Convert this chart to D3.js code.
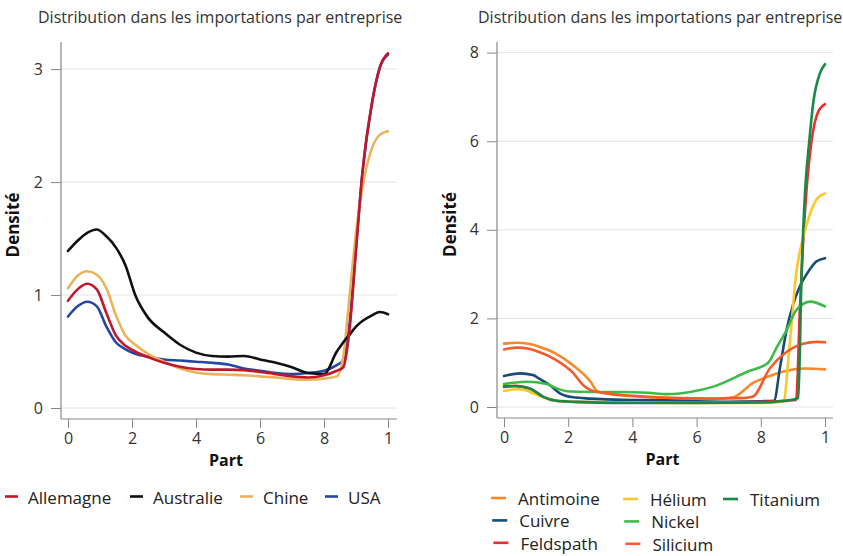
<!DOCTYPE html>
<html><head><meta charset="utf-8">
<script src="https://cdn.jsdelivr.net/npm/d3@7"></script>
<style>body{margin:0;background:#fff;} text{font-family:"Open Sans",sans-serif;}</style>
</head><body><svg id="c" width="843" height="556"></svg>
<script>
// ---------- data ----------
const titleText = "Distribution dans les importations par entreprise";
const xTitle = "Part";
const yTitle = "Densité";
const xTickValues = [0, 0.2, 0.4, 0.6, 0.8, 1];
const xTickLabels = ["0", "2", "4", "6", "8", "1"];
const leftYTicks = [0, 1, 2, 3];
const rightYTicks = [0, 2, 4, 6, 8];

// left chart: countries (common x grid)
const leftX = [0,0.03,0.06,0.09,0.12,0.15,0.18,0.21,0.25,0.3,0.35,0.4,0.45,0.5,0.55,0.6,0.65,0.7,0.75,0.8,0.84,0.86,0.88,0.9,0.92,0.95,0.975,1.0];
const allemagne = [0.95,1.05,1.10,1.05,0.84,0.64,0.55,0.50,0.45,0.40,0.365,0.345,0.34,0.34,0.335,0.32,0.30,0.28,0.27,0.29,0.33,0.36,0.70,1.40,2.08,2.70,3.02,3.14];
const australie = [1.39,1.48,1.55,1.58,1.52,1.42,1.26,1.00,0.80,0.67,0.56,0.49,0.46,0.455,0.46,0.43,0.40,0.36,0.31,0.30,0.50,0.58,0.65,0.72,0.77,0.82,0.85,0.83];
const chine = [1.06,1.17,1.21,1.18,1.06,0.82,0.64,0.56,0.48,0.41,0.35,0.315,0.30,0.295,0.29,0.28,0.27,0.255,0.25,0.26,0.28,0.45,1.00,1.55,1.95,2.30,2.42,2.45];
const usa = [0.81,0.90,0.94,0.90,0.72,0.58,0.52,0.48,0.455,0.43,0.42,0.41,0.40,0.385,0.35,0.33,0.31,0.30,0.31,0.33,0.38,0.42,0.75,1.42,2.08,2.70,3.02,3.13];
const countryNames = ["Allemagne", "Australie", "Chine", "USA"];
const countryColors = ["#c0172b", "#111111", "#e9b35c", "#2447a0"];

// right chart: minerals ([part, density] pairs)
const antimoine = [[0,1.43],[0.04,1.45],[0.08,1.42],[0.11,1.36],[0.16,1.21],[0.215,0.94],[0.27,0.57],[0.29,0.36],[0.33,0.29],[0.37,0.26],[0.45,0.22],[0.55,0.19],[0.65,0.18],[0.714,0.22],[0.777,0.55],[0.828,0.70],[0.88,0.82],[0.94,0.87],[1,0.85]];
const cuivre = [[0,0.70],[0.05,0.76],[0.09,0.72],[0.11,0.64],[0.143,0.49],[0.174,0.31],[0.215,0.22],[0.27,0.19],[0.37,0.16],[0.5,0.15],[0.6,0.13],[0.7,0.12],[0.8,0.13],[0.841,0.14],[0.86,0.9],[0.88,1.73],[0.9,2.3],[0.92,2.7],[0.943,3.0],[0.974,3.29],[1,3.36]];
const feldspath = [[0,0.45],[0.035,0.48],[0.07,0.44],[0.09,0.38],[0.125,0.22],[0.17,0.13],[0.25,0.11],[0.4,0.1],[0.6,0.1],[0.75,0.11],[0.85,0.13],[0.91,0.16],[0.922,2.25],[0.932,3.75],[0.943,4.95],[0.958,6.0],[0.979,6.67],[1,6.84]];
const helium = [[0,0.36],[0.04,0.40],[0.07,0.37],[0.09,0.31],[0.133,0.20],[0.18,0.13],[0.25,0.11],[0.4,0.1],[0.6,0.09],[0.8,0.09],[0.87,0.12],[0.891,1.5],[0.91,3.0],[0.932,3.83],[0.953,4.35],[0.974,4.69],[1,4.82]];
const nickel = [[0,0.52],[0.07,0.57],[0.133,0.52],[0.164,0.42],[0.205,0.35],[0.27,0.34],[0.37,0.34],[0.45,0.32],[0.507,0.29],[0.58,0.34],[0.652,0.46],[0.756,0.79],[0.823,1.0],[0.85,1.35],[0.88,1.73],[0.91,2.18],[0.955,2.38],[1,2.27]];
const silicium = [[0,1.30],[0.04,1.34],[0.08,1.31],[0.11,1.24],[0.16,1.07],[0.215,0.77],[0.247,0.49],[0.27,0.38],[0.32,0.31],[0.37,0.27],[0.45,0.23],[0.55,0.2],[0.65,0.19],[0.74,0.2],[0.774,0.23],[0.828,0.87],[0.88,1.24],[0.932,1.43],[0.974,1.47],[1,1.46]];
const titanium = [[0,0.47],[0.035,0.47],[0.08,0.42],[0.122,0.23],[0.164,0.14],[0.25,0.11],[0.4,0.09],[0.6,0.09],[0.8,0.1],[0.86,0.13],[0.917,0.2],[0.927,3.0],[0.938,4.88],[0.951,6.0],[0.964,6.9],[0.984,7.53],[1,7.74]];
const mineralNames = ["Antimoine", "Cuivre", "Feldspath", "Hélium", "Nickel", "Silicium", "Titanium"];
const mineralColors = ["#f7892b", "#174a78", "#ee2d2d", "#fcc72a", "#3dbb4a", "#f25c2c", "#178a45"];

// ---------- drawing ----------
const svg = d3.select("#c");

function panel(cfg) {
  const x = d3.scaleLinear().domain([0, 1]).range(cfg.xr);
  const y = d3.scaleLinear().domain([0, cfg.ymax]).range(cfg.yr);
  const g = svg.append("g");
  const axL = cfg.xr[0] - 7, axR = cfg.xr[1] + cfg.extR, axB = cfg.yr[0] + 11, axT = cfg.yr[1];

  // title
  g.append("text").attr("x", cfg.titleX).attr("y", 23).attr("font-size", 16)
    .attr("fill", "#333").text(titleText);

  // grid
  g.selectAll(".grid").data(cfg.yticks).join("line")
    .attr("x1", axL).attr("x2", axR).attr("y1", d => y(d)).attr("y2", d => y(d))
    .attr("stroke", "#e4e4e4").attr("stroke-width", 1);

  // y axis
  const ya = g.append("g").attr("transform", `translate(${axL},0)`)
    .call(d3.axisLeft(y).tickValues(cfg.yticks).tickSize(10).tickPadding(8).tickFormat(d3.format("d")));
  ya.select(".domain").remove();
  ya.selectAll(".tick line").attr("stroke", "#888");
  ya.selectAll(".tick text").attr("font-size", 16).attr("fill", "#333").attr("font-family", '"Open Sans",sans-serif');

  // x axis
  const xa = g.append("g").attr("transform", `translate(0,${axB})`)
    .call(d3.axisBottom(x).tickValues(xTickValues).tickSize(9).tickPadding(5).tickFormat((d, i) => xTickLabels[i]));
  xa.select(".domain").remove();
  xa.selectAll(".tick line").attr("stroke", "#888");
  xa.selectAll(".tick text").attr("font-size", 16).attr("fill", "#333").attr("font-family", '"Open Sans",sans-serif');

  // axis lines
  g.append("line").attr("x1", axL).attr("x2", axL).attr("y1", axT).attr("y2", axB).attr("stroke", "#888").attr("stroke-width", 1.2);
  g.append("line").attr("x1", axL).attr("x2", axR).attr("y1", axB).attr("y2", axB).attr("stroke", "#888").attr("stroke-width", 1.2);

  // axis titles
  g.append("text").attr("x", (cfg.xr[0] + cfg.xr[1]) / 2 - 2).attr("y", axB + 47)
    .attr("text-anchor", "middle").attr("font-size", 16).attr("font-weight", "bold").attr("fill", "#111").text(xTitle);
  g.append("text").attr("transform", `translate(${cfg.yTitleX},${(cfg.yr[0] + cfg.yr[1]) / 2}) rotate(-90)`)
    .attr("text-anchor", "middle").attr("font-size", 17).attr("font-weight", "bold").attr("fill", "#111").text(yTitle);

  // lines
  const line = d3.line().x(d => x(d[0])).y(d => y(d[1])).curve(d3.curveMonotoneX);
  cfg.series.forEach(s => {
    g.append("path").datum(s.data).attr("d", line).attr("fill", "none")
      .attr("stroke", s.color).attr("stroke-width", 2.6).attr("stroke-linejoin", "round").attr("stroke-linecap", "round");
  });
}

const countrySeries = [allemagne, australie, chine, usa].map((vals, i) => ({
  name: countryNames[i], color: countryColors[i], data: vals.map((v, j) => [leftX[j], v])
}));
const mineralSeries = [antimoine, cuivre, feldspath, helium, nickel, silicium, titanium].map((d, i) => ({
  name: mineralNames[i], color: mineralColors[i], data: d
}));

panel({ xr: [68, 388], yr: [408, 42], ymax: 3.24, extR: 9, yticks: leftYTicks, titleX: 38, yTitleX: 19,
        series: countrySeries.slice().reverse() });
panel({ xr: [504, 825], yr: [407, 42], ymax: 8.24, extR: 8, yticks: rightYTicks, titleX: 478, yTitleX: 456,
        series: mineralSeries });

// legends
const legL = svg.append("g");
const legLX = [5, 130, 240, 325];
countrySeries.forEach((s, i) => {
  legL.append("line").attr("x1", legLX[i]).attr("x2", legLX[i] + 13).attr("y1", 496.5).attr("y2", 496.5)
    .attr("stroke", s.color).attr("stroke-width", 2.6);
  legL.append("text").attr("x", legLX[i] + 23).attr("y", 497).attr("dominant-baseline", "central")
    .attr("font-size", 17).attr("fill", "#222").text(s.name);
});

const legR = svg.append("g");
const colX = [491, 623, 723];
const colY0 = [498, 499, 499];
mineralSeries.forEach((s, i) => {
  const c = Math.floor(i / 3), r = i % 3;
  const sx = colX[c] + r * 1.2, sy = colY0[c] + r * 22.4;
  legR.append("line").attr("x1", sx).attr("x2", sx + 15).attr("y1", sy).attr("y2", sy)
    .attr("stroke", s.color).attr("stroke-width", 2.6);
  legR.append("text").attr("x", sx + 27).attr("y", sy + 0.5).attr("dominant-baseline", "central")
    .attr("font-size", 17).attr("fill", "#222").text(s.name);
});
</script></body></html>
